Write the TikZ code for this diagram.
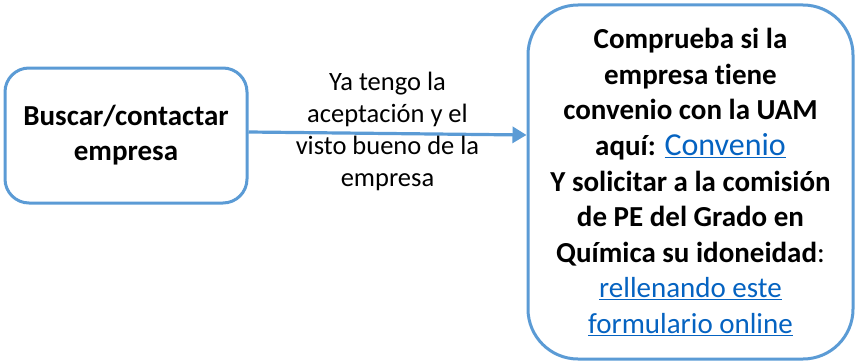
\documentclass[tikz,border=0pt]{standalone}
\usepackage{fontspec}
\setmainfont[Ligatures=NoCommon]{Carlito}
\usetikzlibrary{arrows.meta}
\definecolor{boxblue}{HTML}{5B9BD5}
\definecolor{linkblue}{HTML}{0563C1}
\newcommand{\lnk}[1]{\textcolor{linkblue}{\underline{#1}}}
\begin{document}
\begin{tikzpicture}[x=1pt,y=-1pt,
  stepbox/.style={draw=boxblue, line width=3pt, fill=white, align=center, inner sep=0pt},
  conn/.style={draw=boxblue, line width=3.2pt, -{Triangle[length=14pt,width=16pt]}},
  lbl/.style={align=center, font=\fontsize{26.5}{32}\selectfont}]
\useasboundingbox (0,0) rectangle (856,361);
\node[stepbox, rounded corners=24pt, minimum width=242pt, minimum height=135pt,
      font=\bfseries\fontsize{29}{35}\selectfont] (L) at (126,135.5)
  {Buscar/contactar\\empresa};
\node[stepbox, rounded corners=50pt, minimum width=325pt, minimum height=354pt,
      font=\fontsize{29}{35.6}\selectfont] (R) at (690.5,182)
  {\textbf{Comprueba si la}\\
   \textbf{empresa tiene}\\
   \textbf{convenio con la UAM}\\
   \textbf{aquí:} {\fontsize{32}{35.6}\selectfont\lnk{Convenio}}\\
   \textbf{Y solicitar a la comisión}\\
   \textbf{de PE del Grado en}\\
   \textbf{Química su idoneidad}:\\
   \lnk{rellenando este}\\
   \lnk{formulario online}};
\draw[conn] ([yshift=3.5pt]L.east) -- ([yshift=47pt]R.west)
  node[midway, lbl, yshift=2pt] (T) {Ya tengo la\\aceptación y el\\visto bueno de la\\empresa};
\end{tikzpicture}
\end{document}
